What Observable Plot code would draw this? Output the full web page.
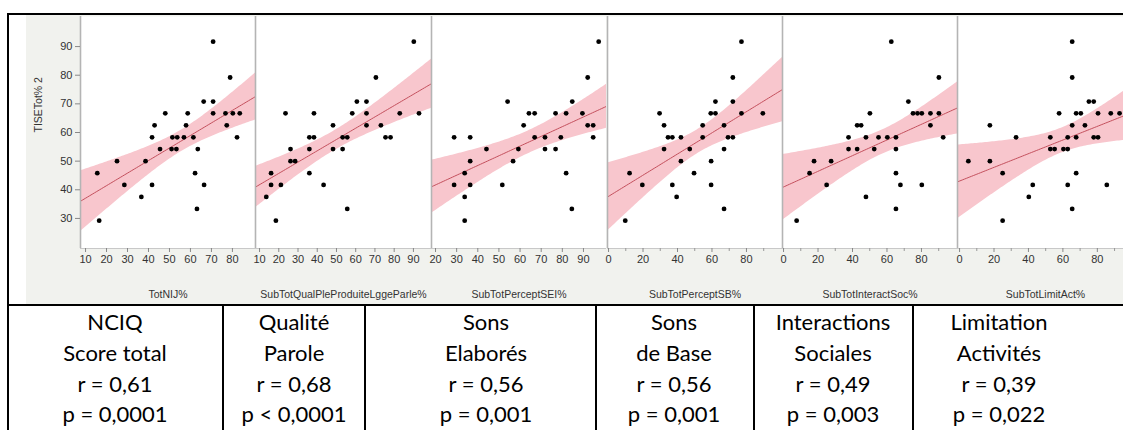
<!DOCTYPE html>
<html><head><meta charset="utf-8">
<script src="https://cdn.jsdelivr.net/npm/d3@7"></script>
<script src="https://cdn.jsdelivr.net/npm/@observablehq/plot@0.6"></script>
<style>
html,body{margin:0;padding:0;background:#fff;width:1123px;height:430px;overflow:hidden;}
#root{position:relative;width:1123px;height:430px;overflow:hidden;background:#fff;}
.abs{position:absolute;}
.cell{position:absolute;font-family:Lato,"Open Sans",sans-serif;font-size:22px;color:#000;text-align:center;line-height:30px;white-space:nowrap;width:220px;}
svg text{font-family:"Liberation Sans",Arial,sans-serif;}
</style></head><body><div id="root"></div>
<script>
// ---------- data ----------
const axisLabels = ["TotNIJ%", "SubTotQualPleProduiteLggeParle%", "SubTotPerceptSEI%", "SubTotPerceptSB%", "SubTotInteractSoc%", "SubTotLimitAct%"];
const yLabel = "TISETot% 2";
const yTicks = [30, 40, 50, 60, 70, 80, 90];
const xTicks = [
  [10, 20, 30, 40, 50, 60, 70, 80],
  [10, 20, 30, 40, 50, 60, 70, 80, 90],
  [20, 30, 40, 50, 60, 70, 80, 90],
  [0, 20, 40, 60, 80],
  [0, 20, 40, 60, 80],
  [0, 20, 40, 60, 80]
];
const xMinorTicks = [[], [], [], [10, 30, 50, 70, 90], [10, 30, 50, 70, 90], [10, 30, 50, 70, 90]];

const x1 = [70.8, 78.9, 66.3, 70.8, 48.0, 58.7, 70.8, 76.7, 80.2, 83.5, 42.9, 57.9, 77.3, 41.7, 51.4, 53.7, 56.9, 61.4, 82.2, 45.5, 51.0, 53.3, 63.5, 25.0, 38.6, 15.6, 62.2, 28.5, 41.7, 66.5, 36.6, 63.1, 16.5];
const y1 = [91.7, 79.2, 70.8, 70.8, 66.7, 66.7, 66.7, 66.7, 66.7, 66.7, 62.5, 62.5, 62.5, 58.3, 58.3, 58.3, 58.3, 58.3, 58.3, 54.2, 54.2, 54.2, 54.2, 50, 50, 45.8, 45.8, 41.7, 41.7, 41.7, 37.5, 33.3, 29.2];

const x2 = [90.2, 70.5, 60.6, 65.6, 23.5, 38.3, 58.2, 65.6, 82.9, 92.9, 48.2, 65.6, 73.1, 35.9, 38.3, 53.2, 55.6, 75.5, 78.1, 26.1, 35.9, 48.2, 53.2, 26.1, 28.5, 16.0, 35.9, 16.0, 21.1, 43.3, 13.5, 55.6, 18.5];
const y2 = [91.7, 79.2, 70.8, 70.8, 66.7, 66.7, 66.7, 66.7, 66.7, 66.7, 62.5, 62.5, 62.5, 58.3, 58.3, 58.3, 58.3, 58.3, 58.3, 54.2, 54.2, 54.2, 54.2, 50, 50, 45.8, 45.8, 41.7, 41.7, 41.7, 37.5, 33.3, 29.2];

const x3 = [97.2, 92.0, 54.1, 84.7, 64.2, 66.9, 76.8, 81.8, 89.5, 61.7, 92.0, 94.6, 28.8, 36.4, 66.9, 71.8, 79.3, 94.6, 44.1, 59.2, 71.8, 76.8, 36.4, 56.7, 33.8, 81.8, 28.8, 36.4, 51.6, 33.8, 84.5, 33.8];
const y3 = [91.7, 79.2, 70.8, 70.8, 66.7, 66.7, 66.7, 66.7, 66.7, 62.5, 62.5, 62.5, 58.3, 58.3, 58.3, 58.3, 58.3, 58.3, 54.2, 54.2, 54.2, 54.2, 50, 50, 45.8, 45.8, 41.7, 41.7, 41.7, 37.5, 33.3, 29.2];

const x4 = [77.1, 72.1, 62.0, 72.1, 29.6, 59.3, 62.0, 77.1, 89.5, 32.2, 54.6, 67.0, 34.5, 37.0, 42.0, 54.6, 69.3, 72.1, 32.2, 47.1, 67.0, 42.0, 59.5, 12.2, 49.6, 19.6, 37.0, 59.5, 39.5, 67.0, 9.7];
const y4 = [91.7, 79.2, 70.8, 70.8, 66.7, 66.7, 66.7, 66.7, 66.7, 62.5, 62.5, 62.5, 58.3, 58.3, 58.3, 58.3, 58.3, 58.3, 54.2, 54.2, 54.2, 50, 50, 45.8, 45.8, 41.7, 41.7, 41.7, 37.5, 33.3, 29.2];

const x5 = [62.5, 90.1, 72.4, 50.1, 75.1, 77.7, 80.2, 85.2, 90.1, 42.7, 45.0, 85.2, 37.7, 47.8, 55.1, 60.2, 65.2, 92.6, 37.7, 42.7, 52.6, 65.2, 17.7, 27.6, 15.1, 65.2, 25.0, 67.8, 80.2, 47.8, 65.2, 7.6];
const y5 = [91.7, 79.2, 70.8, 66.7, 66.7, 66.7, 66.7, 66.7, 66.7, 62.5, 62.5, 62.5, 58.3, 58.3, 58.3, 58.3, 58.3, 58.3, 54.2, 54.2, 54.2, 54.2, 50, 50, 45.8, 45.8, 41.7, 41.7, 41.7, 37.5, 33.3, 29.2];

const x6 = [65.4, 65.4, 75.1, 77.9, 57.8, 67.7, 70.4, 80.4, 87.8, 92.9, 17.6, 65.4, 72.8, 32.8, 52.7, 62.8, 67.7, 77.9, 80.4, 52.7, 55.2, 60.3, 62.8, 5.1, 17.6, 25.0, 67.7, 42.5, 62.8, 85.5, 40.2, 65.4, 25.0];
const y6 = [91.7, 79.2, 70.8, 70.8, 66.7, 66.7, 66.7, 66.7, 66.7, 66.7, 62.5, 62.5, 62.5, 58.3, 58.3, 58.3, 58.3, 58.3, 58.3, 54.2, 54.2, 54.2, 54.2, 50, 50, 45.8, 45.8, 41.7, 41.7, 41.7, 37.5, 33.3, 29.2];

const tableLine1 = ["NCIQ", "Qualité", "Sons", "Sons", "Interactions", "Limitation"];
const tableLine2 = ["Score total", "Parole", "Elaborés", "de Base", "Sociales", "Activités"];
const rValues = ["r = 0,61", "r = 0,68", "r = 0,56", "r = 0,56", "r = 0,49", "r = 0,39"];
const pValues = ["p = 0,0001", "p < 0,0001", "p = 0,001", "p = 0,001", "p = 0,003", "p = 0,022"];

// ---------- layout ----------
const xs = [x1, x2, x3, x4, x5, x6];
const ys = [y1, y2, y3, y4, y5, y6];
const panelLeft = [80, 255, 431, 607, 782, 957];
const panelRight = [255, 431, 606, 782, 957, 1133];
const xDomains = [[7.6, 91], [7.9, 99.4], [18.1, 100.9], [-0.6, 100.9], [-0.6, 100.9], [-1.2, 101]];
const yDomain = [19.5, 100.5];
const TOP = 16, PH = 232, MB = 60;
const colCenters = [115, 294, 486, 674, 833, 999];
const colDividers = [223, 365, 596, 754, 913];
const rowCenters = [323, 354, 385, 415];
const FONT = "Liberation Sans, Arial, sans-serif";

const root = document.getElementById("root");
function box(l, t, w, h, bg) {
  const d = document.createElement("div");
  d.className = "abs";
  Object.assign(d.style, {left: l + "px", top: t + "px", width: w + "px", height: h + "px", background: bg});
  root.appendChild(d);
  return d;
}
// grey background of the statistical output
box(26, 14, 1123 - 26, 290, "#f1f2ee");

function fit(xv, yv, domain) {
  const n = xv.length;
  const mx = d3.mean(xv), my = d3.mean(yv);
  let sxx = 0, sxy = 0;
  for (let i = 0; i < n; i++) { sxx += (xv[i] - mx) ** 2; sxy += (xv[i] - mx) * (yv[i] - my); }
  const b = sxy / sxx, a = my - b * mx;
  let sse = 0;
  for (let i = 0; i < n; i++) sse += (yv[i] - a - b * xv[i]) ** 2;
  const s = Math.sqrt(sse / (n - 2));
  const t = 2.04;
  return d3.range(0, 101).map(k => {
    const x = domain[0] + (domain[1] - domain[0]) * k / 100;
    const yhat = a + b * x;
    const se = s * Math.sqrt(1 / n + (x - mx) ** 2 / sxx);
    return {x, y: yhat, lo: yhat - t * se, hi: yhat + t * se};
  });
}

for (let i = 0; i < 6; i++) {
  const ml = i === 0 ? 60 : 14, mr = 14;
  const w = panelRight[i] - panelLeft[i] + ml + mr;
  const pts = xs[i].map((x, k) => ({x, y: ys[i][k]}));
  const grid = fit(xs[i], ys[i], xDomains[i]);
  const marks = [
    Plot.frame({fill: "white", stroke: null}),
    Plot.areaY(grid, {x: "x", y1: "lo", y2: "hi", fill: "#f8c6cd", clip: true}),
    Plot.lineY(grid, {x: "x", y: "y", stroke: "#c4505d", strokeWidth: 1, clip: true}),
    Plot.dot(pts, {x: "x", y: "y", r: 2.4, fill: "#000", stroke: null}),
    Plot.ruleY([yDomain[0]], {stroke: "#c8c8c8", strokeWidth: 1}),
    Plot.ruleX([xDomains[i][0]], {stroke: "#b4b4b4", strokeWidth: 1.6}),
    Plot.axisX({ticks: xTicks[i], tickSize: 4, tickPadding: 3, fontSize: 11, fontFamily: FONT, stroke: "#888", fill: "#333", label: null}),
    Plot.text([axisLabels[i]], {text: d => d, frameAnchor: "bottom", dy: 46, lineAnchor: "middle", fontSize: 10.5, fontFamily: FONT, fill: "#333"})
  ];
  if (xMinorTicks[i].length) {
    marks.push(Plot.axisX({ticks: xMinorTicks[i], tickSize: 3, tickFormat: () => "", stroke: "#999", label: null}));
  }
  if (i === 0) {
    marks.push(Plot.axisY({ticks: yTicks, tickSize: 5, tickPadding: 3, fontSize: 11, fontFamily: FONT, stroke: "#888", fill: "#333", label: null}));
    marks.push(Plot.text([yLabel], {text: d => d, frameAnchor: "left", dx: -42, rotate: -90, fontSize: 10.5, fontFamily: FONT, fill: "#333"}));
  }
  const chart = Plot.plot({
    width: w,
    height: PH + MB,
    marginLeft: ml, marginRight: mr, marginTop: 0, marginBottom: MB,
    x: {domain: xDomains[i], label: null},
    y: i === 0 ? {domain: yDomain, label: null} : {domain: yDomain, axis: null, label: null},
    style: {background: "transparent", overflow: "visible", fontFamily: FONT, maxWidth: "none"},
    marks
  });
  chart.style.position = "absolute";
  chart.style.left = (panelLeft[i] - ml) + "px";
  chart.style.top = TOP + "px";
  root.appendChild(chart);
}

// frame lines of the figure / table
box(7, 13, 1123 - 7, 2, "#000");
box(7, 13, 2, 430 - 13, "#000");
box(7, 304, 1123 - 7, 2, "#000");
colDividers.forEach(x => box(x - 1, 305, 2, 125, "#000"));

// table text
const rows = [tableLine1, tableLine2, rValues, pValues];
rows.forEach((row, r) => {
  row.forEach((txt, c) => {
    const d = document.createElement("div");
    d.className = "cell";
    d.textContent = txt;
    d.style.left = (colCenters[c] - 110) + "px";
    d.style.top = (rowCenters[r] - 16) + "px";
    root.appendChild(d);
  });
});
</script></body></html>
